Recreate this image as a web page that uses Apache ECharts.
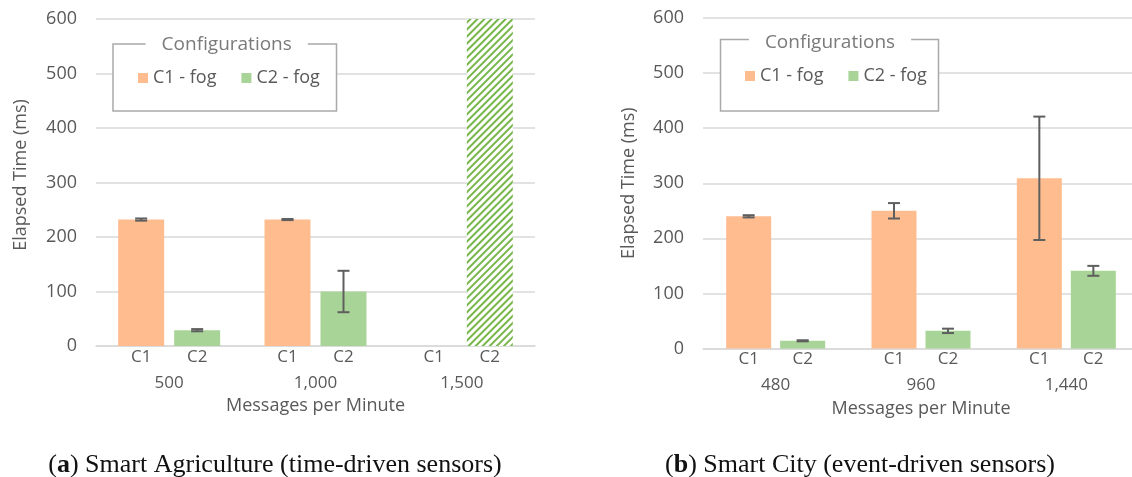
<!DOCTYPE html>
<html>
<head>
<meta charset="utf-8">
<script src="https://cdn.jsdelivr.net/npm/echarts@6/dist/echarts.min.js"></script>
<style>
html,body{margin:0;padding:0;background:#fff;}
#c{width:1132px;height:477px;}
</style>
</head>
<body>
<div id="c"></div>
<script>
// ---------- data ----------
const yTicks = [0, 100, 200, 300, 400, 500, 600];
const subLabels = ['C1', 'C2'];
const seriesNames = ['C1 - fog', 'C2 - fog'];
const legendTitle = 'Configurations';
const yName = 'Elapsed Time (ms)';
const xName = 'Messages per Minute';

const leftCats = ['500', '1,000', '1,500'];
const leftC1 = [232, 232, null];
const leftC1Err = [2, 1, null];
const leftC2 = [29, 100, 600];
const leftC2Err = [2, 38, null];
const leftC2Hatched = [false, false, true];

const rightCats = ['480', '960', '1,440'];
const rightC1 = [240, 250, 309];
const rightC1Err = [2, 14, 112];
const rightC2 = [14, 32, 141];
const rightC2Err = [1, 4, 9];

const captionTags = ['a', 'b'];
const captionTexts = ['Smart Agriculture (time-driven sensors)', 'Smart City (event-driven sensors)'];

// ---------- style ----------
const FONT = "'Open Sans', 'Noto Sans', sans-serif";
const SERIF = "'Liberation Serif', serif";
const TXT = '#595959';
const GRIDC = '#d9d9d9';
const ORANGE = '#ffbd8f';
const GREEN = '#a8d597';
const HATCH = '#78b54a';
const ERRC = '#5f5f5f';

const L = {barW: 46, gap: 10};
const R = {barW: 45, gap: 9};

function xAxis(gridIndex, cats, lay) {
  const w = lay.barW + lay.gap;
  return {
    type: 'category', gridIndex, data: cats,
    axisTick: {show: false},
    axisLine: {lineStyle: {color: GRIDC, width: 1.5}},
    axisLabel: {
      margin: 0, color: TXT, fontFamily: FONT, fontSize: 17,
      formatter: v => '{s|' + subLabels[0] + '}{s|' + subLabels[1] + '}\n{c|' + v + '}',
      rich: {
        s: {width: w, align: 'center', lineHeight: 22, fontSize: 17, fontFamily: FONT, color: TXT},
        c: {align: 'center', lineHeight: 30, fontSize: 17, fontFamily: FONT, color: TXT}
      }
    },
    name: xName, nameLocation: 'middle', nameGap: 51,
    nameTextStyle: {color: TXT, fontFamily: FONT, fontSize: 18}
  };
}
function yAxis(gridIndex, nameGap, pad) {
  return {
    type: 'value', gridIndex, min: yTicks[0], max: yTicks[yTicks.length - 1], interval: yTicks[1] - yTicks[0],
    axisLine: {show: false}, axisTick: {show: false},
    splitLine: {lineStyle: {color: GRIDC, width: 1.5}},
    axisLabel: {color: TXT, fontFamily: FONT, fontSize: 18, margin: 19},
    name: yName, nameLocation: 'middle', nameRotate: 90, nameGap,
    nameTextStyle: {color: TXT, fontFamily: FONT, fontSize: 18, padding: pad}
  };
}
function bars(name, idx, vals, color, lay, hatched) {
  return {
    type: 'bar', name, xAxisIndex: idx, yAxisIndex: idx,
    barWidth: lay.barW, barGap: (lay.gap / lay.barW * 100) + '%',
    itemStyle: {color},
    data: vals.map((v, i) => (hatched && hatched[i]) ? {
      value: v,
      itemStyle: {
        color: '#ffffff',
        decal: {symbol: 'rect', symbolSize: 1, dashArrayX: [1, 0], dashArrayY: [2, 2.2], rotation: -Math.PI / 4, color: HATCH}
      }
    } : v)
  };
}
function errs(idx, vals, e, side, lay) {
  const off = side * (lay.barW + lay.gap) / 2;
  const data = [];
  vals.forEach((v, i) => { if (v != null && e[i] != null) data.push([i, v - e[i], v + e[i]]); });
  return {
    type: 'custom', xAxisIndex: idx, yAxisIndex: idx, silent: true, z: 4,
    encode: {x: 0, y: [1, 2]},
    data,
    renderItem(params, api) {
      const lo = api.coord([api.value(0), api.value(1)]);
      const hi = api.coord([api.value(0), api.value(2)]);
      const x = lo[0] + off, c = 6;
      const st = {stroke: ERRC, lineWidth: 2};
      return {type: 'group', children: [
        {type: 'line', shape: {x1: x, y1: lo[1], x2: x, y2: hi[1]}, style: st},
        {type: 'line', shape: {x1: x - c, y1: lo[1], x2: x + c, y2: lo[1]}, style: st},
        {type: 'line', shape: {x1: x - c, y1: hi[1], x2: x + c, y2: hi[1]}, style: st}
      ]};
    }
  };
}
function legend(left, top) {
  return {
    data: seriesNames, left, top, orient: 'horizontal', padding: 0,
    itemWidth: 10, itemHeight: 10, itemGap: 25, icon: 'rect', selectedMode: false,
    textStyle: {color: TXT, fontFamily: FONT, fontSize: 18, lineHeight: 20}
  };
}
function legendBox(x, y, w, h, cx, ty) {
  return [
    {type: 'rect', z: 3, shape: {x, y, width: w, height: h}, style: {fill: '#fff', stroke: '#a9a9a9', lineWidth: 1.5}},
    {type: 'text', z: 3, x: cx, y: ty, style: {
      text: legendTitle, align: 'center', verticalAlign: 'middle', fill: '#7a7a7a',
      fontFamily: FONT, fontSize: 19, backgroundColor: '#fff', padding: [0, 16]
    }}
  ];
}
function caption(i, cx) {
  return {type: 'text', z: 3, x: cx, y: 465, style: {
    text: '{n|(}{b|' + captionTags[i] + '}{n|) ' + captionTexts[i] + '}',
    align: 'center', verticalAlign: 'middle', fill: '#111',
    fontFamily: SERIF, fontSize: 26,
    rich: {
      n: {fontFamily: SERIF, fontSize: 26, fill: '#111'},
      b: {fontFamily: SERIF, fontSize: 26, fontWeight: 'bold', fill: '#111'}
    }
  }};
}

const option = {
  animation: false,
  backgroundColor: '#fff',
  textStyle: {fontFamily: FONT},
  grid: [
    {left: 96, top: 19, width: 439, height: 327, containLabel: false, outerBoundsMode: 'none'},
    {left: 703, top: 18, width: 436, height: 330.5, containLabel: false, outerBoundsMode: 'none'}
  ],
  xAxis: [xAxis(0, leftCats, L), xAxis(1, rightCats, R)],
  yAxis: [yAxis(0, 66, [0, 0, 0, 15]), yAxis(1, 65, 0)],
  legend: [legend(138, 68), legend(745, 66)],
  graphic: [
    ...legendBox(113, 44, 223.5, 67, 226.7, 45),
    ...legendBox(720.5, 39.5, 218, 71.5, 830, 42.3),
    caption(0, 275),
    caption(1, 860)
  ],
  series: [
    bars(seriesNames[0], 0, leftC1, ORANGE, L),
    bars(seriesNames[1], 0, leftC2, GREEN, L, leftC2Hatched),
    bars(seriesNames[0], 1, rightC1, ORANGE, R),
    bars(seriesNames[1], 1, rightC2, GREEN, R),
    errs(0, leftC1, leftC1Err, -1, L),
    errs(0, leftC2, leftC2Err, 1, L),
    errs(1, rightC1, rightC1Err, -1, R),
    errs(1, rightC2, rightC2Err, 1, R)
  ]
};
const chart = echarts.init(document.getElementById('c'), null, {renderer: 'canvas'});
chart.setOption(option);
</script>
</body>
</html>
